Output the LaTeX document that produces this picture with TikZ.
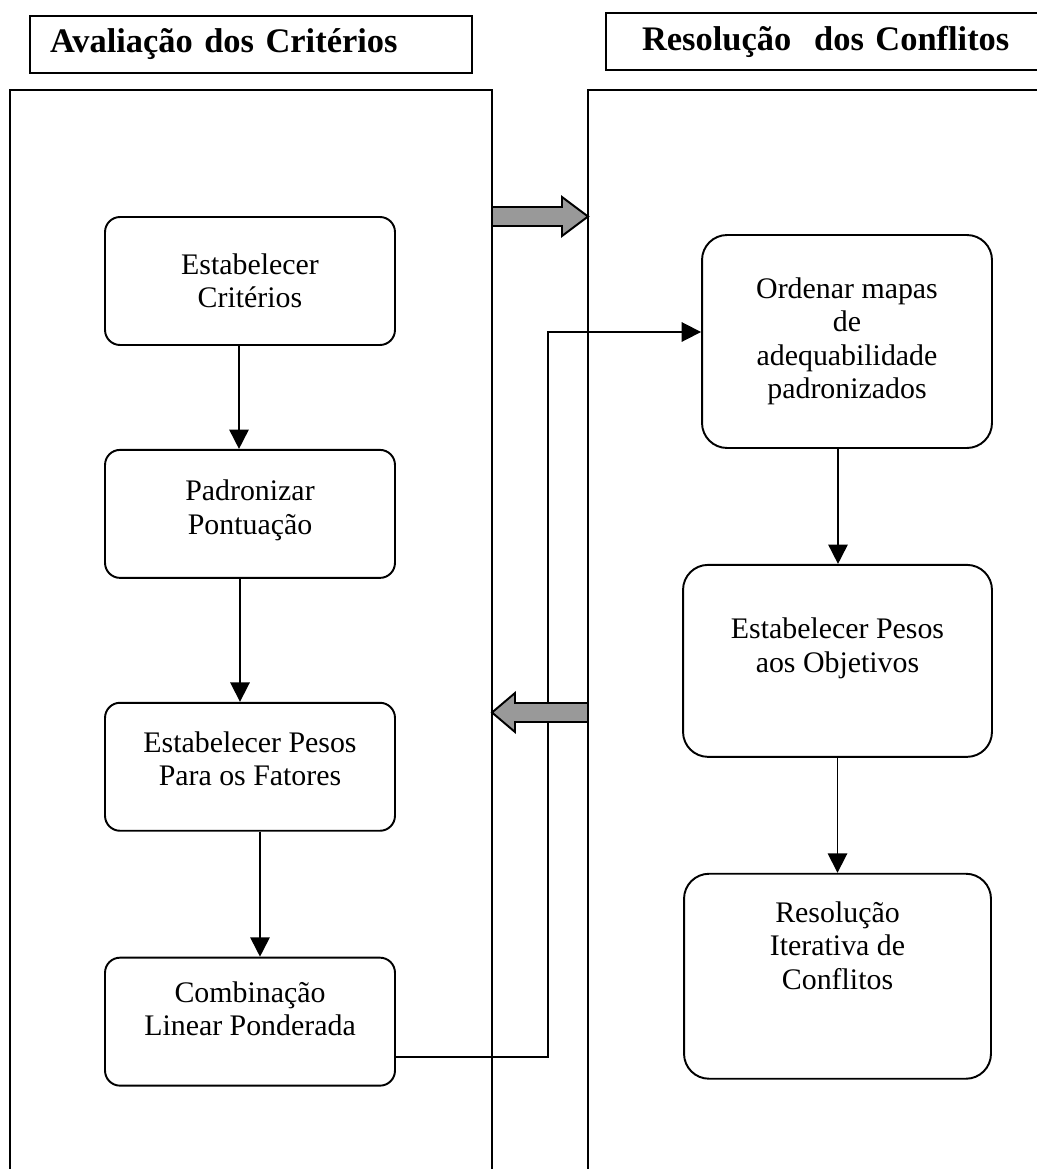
\documentclass[tikz,border=0pt]{standalone}
\usepackage{fontspec}
\setmainfont{Liberation Serif}
\usetikzlibrary{positioning,arrows.meta}
% raise a centred block of lines without changing the box size
\newcommand{\lift}[2]{\raisebox{#1}[0pt][0pt]{\begin{tabular}{@{}c@{}}#2\end{tabular}}}

\begin{document}
\begin{tikzpicture}[x=0.02cm, y=-0.02cm, box/.style={draw, line width=1.1pt, rounded corners=0.3cm, align=center, minimum width=5.8cm, minimum height=2.56cm, font=\fontsize{17}{19}\selectfont}, bigbox/.style={box, rounded corners=0.5cm}, title/.style={draw, line width=1.1pt, align=left, minimum height=1.14cm, font=\fontsize{19.6}{22}\selectfont\bfseries}, arrow/.style={-{Triangle[length=11pt,width=11pt]}, line width=1pt}, panel/.style={line width=1.1pt}, block/.style={draw, line width=1.1pt, fill=black!40}]
\useasboundingbox (0,0) rectangle (1037,1169);
% titles and panels
\node[title, inner xsep=0.4cm, text width=8.04cm](tleft) at (251,44.5){Avaliação dos Critérios};
\node[title, inner xsep=0.72cm, text width=8cm](tright) at (842,41.5){Resolução \ dos Conflitos};
\draw[panel] (10,1180) -- (10,90) -- (492,90) -- (492,1180);
\draw[panel] (588,1180) -- (588,90) -- (1045,90);
% left column
\node[box](crit) at (250,281){Estabelecer\\Critérios};
\node[box,below=2.06cm of crit](padr){\lift{-0.09cm}{Padronizar\\Pontuação}};
\node[box,below=2.46cm of padr](pesos){\lift{-0.06cm}{Estabelecer Pesos\\Para os Fatores}};
\node[box,below=2.5cm of pesos](comb){\lift{0.03cm}{Combinação\\Linear Ponderada}};
% right column
\node[bigbox,minimum height=4.26cm](mapas) at (847,341.5){Ordenar mapas\\de\\adequabilidade\\padronizados};
\node[bigbox,minimum width=6.18cm,minimum height=3.84cm,below=2.3cm of mapas,xshift=-0.19cm](obj){\lift{0.09cm}{Estabelecer Pesos\\aos Objetivos}};
\node[bigbox,minimum width=6.14cm,minimum height=4.1cm,below=2.3cm of obj](iter){\lift{0.39cm}{Resolução\\Iterativa de\\Conflitos}};
\draw[arrow] ([xshift=-0.22cm]crit.south) -- ([xshift=-0.22cm]padr.north);
\draw[arrow] ([xshift=-0.2cm]padr.south) -- ([xshift=-0.2cm]pesos.north);
\draw[arrow] ([xshift=0.2cm]pesos.south) -- ([xshift=0.2cm]comb.north);
\draw[arrow] ([xshift=-0.18cm]mapas.south) -- ([xshift=-0.18cm]mapas.south |- obj.north);
\draw[arrow] (obj.south) -- (obj.south |- iter.north);
% feedback line
\coordinate (out) at ([yshift=-0.7cm]comb.east);
\coordinate (in) at ([yshift=0.19cm]mapas.west);
\coordinate (jog) at (548,0);
\draw[arrow] (out) -- (out -| jog) -- (jog |- in) -- (in);
% block arrows between panels
\draw[block] (492,207) -- (562,207) -- (562,197) -- (588,216.5) -- (562,236) -- (562,226) -- (492,226) -- cycle;
\draw[block] (588,703) -- (515,703) -- (515,693) -- (492,712.5) -- (515,732) -- (515,722) -- (588,722) -- cycle;
\end{tikzpicture}
\end{document}
